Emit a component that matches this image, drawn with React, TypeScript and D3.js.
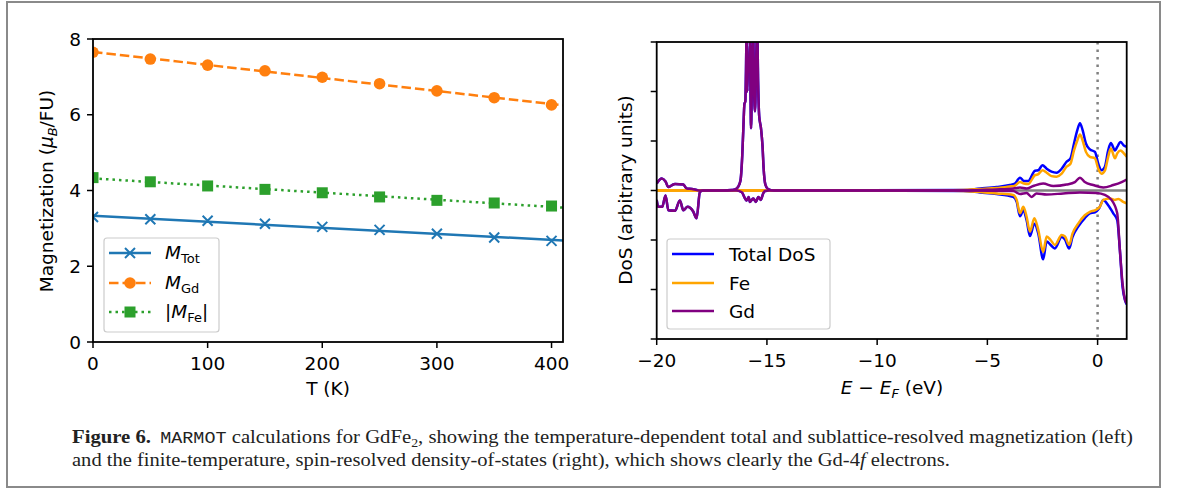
import React from "react";
import * as d3 from "d3";

// ---------- Left panel data ----------
const temps = [0, 50, 100, 150, 200, 250, 300, 350, 400];
const mTot = [3.30, 3.24, 3.20, 3.12, 3.04, 2.96, 2.86, 2.76, 2.67];
const mGd = [7.65, 7.47, 7.31, 7.16, 6.99, 6.82, 6.63, 6.45, 6.26];
const mFe = [4.34, 4.23, 4.12, 4.03, 3.94, 3.83, 3.74, 3.67, 3.59];
const leftXTicks = [0, 100, 200, 300, 400];
const leftYTicks = [0, 2, 4, 6, 8];

// ---------- Right panel data ([E - E_F in eV, DoS]) ----------
const gdUp: [number, number][] = [
  [-20.0, 0.14], [-19.77, 0.24], [-19.6, 0.18], [-19.47, 0.07], [-19.3, 0.11], [-19.17, 0.13],
  [-18.79, 0.12], [-18.64, 0.04], [-18.4, 0.03], [-18.19, 0.01], [-18.04, 0.0], [-17.0, 0.0],
  [-16.6, 0.01], [-16.45, 0.02], [-16.3, 0.08], [-16.2, 0.2], [-16.12, 0.7], [-16.07, 1.25],
  [-16.02, 1.75], [-15.98, 1.8], [-15.95, 2.4], [-15.92, 3.3], [-15.89, 2.0], [-15.86, 2.6],
  [-15.81, 2.4], [-15.77, 3.0], [-15.74, 1.8], [-15.72, 1.26], [-15.68, 2.2], [-15.63, 3.3],
  [-15.58, 2.0], [-15.54, 1.6], [-15.49, 2.6], [-15.44, 3.3], [-15.4, 2.2], [-15.35, 1.5],
  [-15.27, 1.26], [-15.2, 0.9], [-15.15, 0.45], [-15.07, 0.12], [-14.95, 0.03], [-14.7, 0.0],
  [-6.0, 0.0], [-5.34, 0.01], [-4.58, 0.02], [-3.83, 0.04],
  [-3.52, 0.06], [-3.22, 0.04], [-2.92, 0.09], [-2.47, 0.14], [-2.01, 0.09], [-1.41, 0.12],
  [-1.03, 0.17], [-0.8, 0.26], [-0.58, 0.17], [-0.2, 0.11], [0.26, 0.06], [0.71, 0.11],
  [1.09, 0.17], [1.32, 0.22],
];
const gdDown: [number, number][] = [
  [-20.0, -0.19], [-19.93, -0.33], [-19.75, -0.33], [-19.6, -0.1], [-19.47, -0.4], [-19.17, -0.41],
  [-18.95, -0.2], [-18.79, -0.4], [-18.6, -0.33], [-18.35, -0.42], [-18.19, -0.56], [-18.04, -0.03],
  [-17.9, 0.0], [-16.4, 0.0], [-16.15, -0.03], [-15.92, -0.2], [-15.83, -0.13], [-15.77, -0.23],
  [-15.62, -0.16], [-15.5, -0.23], [-15.39, -0.13], [-15.28, -0.19], [-15.17, -0.06], [-15.09, -0.01],
  [-14.9, 0.0], [-6.0, 0.0], [-3.83, -0.01], [-3.52, -0.07], [-3.22, -0.05], [-2.99, -0.13],
  [-2.77, -0.06], [-2.31, -0.08], [-1.56, -0.06], [-0.8, -0.04], [-0.05, -0.05], [0.33, -0.09],
  [0.63, -0.19], [0.89, -0.46], [1.01, -1.2], [1.13, -1.87], [1.24, -2.2], [1.32, -2.28],
];
const feUp: [number, number][] = [
  [-20.0, 0.0], [-7.0, 0.0], [-6.09, 0.01], [-5.34, 0.03], [-4.58, 0.05], [-3.98, 0.08],
  [-3.75, 0.1], [-3.52, 0.17], [-3.34, 0.14], [-3.15, 0.13], [-2.84, 0.31], [-2.69, 0.33],
  [-2.5, 0.41], [-2.31, 0.36], [-2.09, 0.29], [-1.86, 0.28], [-1.63, 0.34], [-1.41, 0.48],
  [-1.23, 0.54], [-1.07, 0.81], [-0.92, 1.01], [-0.8, 1.13], [-0.68, 1.01], [-0.53, 0.78],
  [-0.35, 0.68], [-0.12, 0.65], [0.03, 0.44], [0.18, 0.34], [0.33, 0.4], [0.48, 0.68],
  [0.6, 0.85], [0.79, 0.65], [0.89, 0.75], [1.04, 0.81], [1.19, 0.75], [1.32, 0.68],
];
const feDown: [number, number][] = [
  [-20.0, 0.0], [-7.0, 0.0], [-6.09, -0.01], [-5.34, -0.03], [-4.58, -0.06], [-3.83, -0.09],
  [-3.67, -0.19], [-3.52, -0.46], [-3.37, -0.33], [-3.22, -0.53], [-3.07, -0.83], [-2.87, -0.56],
  [-2.69, -0.8], [-2.47, -1.24], [-2.31, -0.93], [-2.13, -1.0], [-1.94, -1.1], [-1.63, -0.9],
  [-1.48, -0.93], [-1.29, -1.1], [-1.14, -0.87], [-0.88, -0.67], [-0.58, -0.5], [-0.35, -0.43],
  [-0.12, -0.4], [0.1, -0.33], [0.26, -0.19], [0.56, -0.16], [0.78, -0.19], [0.94, -0.17],
  [1.16, -0.23], [1.32, -0.26],
];
const totUp: [number, number][] = [
  ...gdUp.filter((d) => d[0] < -6.5),
  [-6.09, 0.01], [-5.34, 0.04], [-4.58, 0.07], [-3.98, 0.11], [-3.75, 0.14], [-3.52, 0.26],
  [-3.34, 0.19], [-3.15, 0.19], [-2.84, 0.4], [-2.69, 0.41], [-2.5, 0.51], [-2.31, 0.44],
  [-2.09, 0.38], [-1.86, 0.36], [-1.63, 0.44], [-1.41, 0.58], [-1.23, 0.65], [-1.07, 0.95],
  [-0.92, 1.22], [-0.8, 1.36], [-0.68, 1.22], [-0.53, 0.95], [-0.35, 0.83], [-0.12, 0.78],
  [0.03, 0.54], [0.18, 0.41], [0.33, 0.48], [0.48, 0.81], [0.6, 0.96], [0.79, 0.81],
  [0.89, 0.88], [1.04, 0.98], [1.19, 0.91], [1.32, 0.88],
];
const totDown: [number, number][] = [
  ...gdDown.filter((d) => d[0] < -6.5),
  [-6.09, -0.01], [-5.34, -0.04], [-4.58, -0.07], [-3.83, -0.13], [-3.67, -0.23], [-3.52, -0.52],
  [-3.37, -0.4], [-3.22, -0.6], [-3.07, -0.92], [-2.87, -0.67], [-2.69, -0.87], [-2.47, -1.39],
  [-2.31, -1.03], [-2.13, -1.1], [-1.94, -1.17], [-1.63, -0.94], [-1.48, -0.99], [-1.29, -1.17],
  [-1.14, -0.94], [-0.88, -0.73], [-0.58, -0.56], [-0.35, -0.46], [-0.12, -0.44], [0.07, -0.36],
  [0.26, -0.19], [0.48, -0.3], [0.71, -0.46], [0.89, -0.6], [1.01, -1.2], [1.13, -1.94],
  [1.24, -2.21], [1.32, -2.3],
];
const rightXTicks = [-20, -15, -10, -5, 0];
const rightYTicks = [-3, -2, -1, 0, 1, 2, 3];

const C_TOT = "#1f77b4";
const C_GD = "#ff7f0e";
const C_FE = "#2ca02c";
const FONT = "DejaVu Sans, sans-serif";

function fit(xs: number[], ys: number[]) {
  const mx = d3.mean(xs)!;
  const my = d3.mean(ys)!;
  let num = 0, den = 0;
  xs.forEach((x, i) => { num += (x - mx) * (ys[i] - my); den += (x - mx) * (x - mx); });
  const b = num / den;
  return (x: number) => my + b * (x - mx);
}

export default function App() {
  // left scales
  const xL = d3.scaleLinear().domain([0, 410]).range([93, 563]);
  const yL = d3.scaleLinear().domain([0, 8]).range([342, 39]);
  // right scales
  const xR = d3.scaleLinear().domain([-20, 1.32]).range([656.7, 1126.7]);
  const yR = d3.scaleLinear().domain([-3, 3]).range([339, 42]);

  const dos = d3.line<[number, number]>().x((d) => xR(d[0])).y((d) => yR(d[1])).curve(d3.curveMonotoneX);

  const [x0, x1] = xL.domain();
  const fitLine = (ys: number[]) => {
    const f = fit(temps, ys);
    return `M${xL(x0)},${yL(f(x0))}L${xL(x1)},${yL(f(x1))}`;
  };

  const xMark = (cx: number, cy: number, s: number, key?: any) => (
    <path key={key} d={`M${cx - s},${cy - s}L${cx + s},${cy + s}M${cx - s},${cy + s}L${cx + s},${cy - s}`}
      stroke={C_TOT} strokeWidth={2} fill="none" />
  );

  const fs = 18.5;
  const lw = 2.5;

  return (
    <svg width={1179} height={490} style={{ position: "absolute", left: 0, top: 0, background: "#fff" }}
      fontFamily={FONT}>
      <defs>
        <clipPath id="clipL"><rect x={93} y={39} width={470} height={303} /></clipPath>
        <clipPath id="clipR"><rect x={656.7} y={42} width={470} height={297} /></clipPath>
      </defs>
      <rect x={0} y={0} width={1179} height={490} fill="#fff" />
      <rect x={7} y={2} width={1153} height={485} fill="none" stroke="#8a8a8a" strokeWidth={2} />

      {/* ---------------- Left panel ---------------- */}
      <g clipPath="url(#clipL)">
        <path d={fitLine(mTot)} stroke={C_TOT} strokeWidth={lw} fill="none" />
        <path d={fitLine(mGd)} stroke={C_GD} strokeWidth={lw} fill="none" strokeDasharray="9.5,4" />
        <path d={fitLine(mFe)} stroke={C_FE} strokeWidth={lw} fill="none" strokeDasharray="2.5,4" />
        {temps.map((t, i) => xMark(xL(t), yL(mTot[i]), 5, "t" + i))}
        {temps.map((t, i) => <circle key={"g" + i} cx={xL(t)} cy={yL(mGd[i])} r={5.8} fill={C_GD} />)}
        {temps.map((t, i) => <rect key={"f" + i} x={xL(t) - 5.5} y={yL(mFe[i]) - 5.5} width={11} height={11} fill={C_FE} />)}
      </g>
      <rect x={93} y={39} width={470} height={303} fill="none" stroke="#000" strokeWidth={1.8} />
      {leftXTicks.map((t) => (
        <g key={"lx" + t}>
          <line x1={xL(t)} x2={xL(t)} y1={342} y2={348} stroke="#000" strokeWidth={1.5} />
          <text x={xL(t)} y={370} textAnchor="middle" fontSize={fs}>{t}</text>
        </g>
      ))}
      {leftYTicks.map((t) => (
        <g key={"ly" + t}>
          <line x1={87} x2={93} y1={yL(t)} y2={yL(t)} stroke="#000" strokeWidth={1.5} />
          <text x={81} y={yL(t) + 6.5} textAnchor="end" fontSize={fs}>{t}</text>
        </g>
      ))}
      <text x={328} y={395} textAnchor="middle" fontSize={fs}>T (K)</text>
      <text transform="translate(53,191) rotate(-90)" textAnchor="middle" fontSize={fs}>
        Magnetization (<tspan fontStyle="italic">μ</tspan><tspan fontStyle="italic" fontSize={13} dy={4}>B</tspan><tspan dy={-4}>/FU)</tspan>
      </text>

      {/* left legend */}
      <rect x={104} y={238} width={115} height={94} rx={3} fill="#fff" fillOpacity={0.8} stroke="#cccccc" strokeWidth={1.2} />
      <line x1={109} x2={151} y1={253} y2={253} stroke={C_TOT} strokeWidth={lw} />
      {xMark(130, 253, 5)}
      <line x1={109} x2={151} y1={283} y2={283} stroke={C_GD} strokeWidth={lw} strokeDasharray="9.5,4" />
      <circle cx={130} cy={283} r={5.8} fill={C_GD} />
      <line x1={109} x2={151} y1={312} y2={312} stroke={C_FE} strokeWidth={lw} strokeDasharray="2.5,4" />
      <rect x={124.5} y={306.5} width={11} height={11} fill={C_FE} />
      <text x={165} y={259} fontSize={fs}><tspan fontStyle="italic">M</tspan><tspan fontSize={13} dy={4}>Tot</tspan></text>
      <text x={165} y={289} fontSize={fs}><tspan fontStyle="italic">M</tspan><tspan fontSize={13} dy={4}>Gd</tspan></text>
      <text x={165} y={318} fontSize={fs}>|<tspan fontStyle="italic">M</tspan><tspan fontSize={13} dy={4}>Fe</tspan><tspan dy={-4}>|</tspan></text>

      {/* ---------------- Right panel ---------------- */}
      <g clipPath="url(#clipR)">
        <line x1={656.7} x2={1126.7} y1={yR(0)} y2={yR(0)} stroke="#808080" strokeWidth={2.5} />
        <line x1={xR(0)} x2={xR(0)} y1={42} y2={339} stroke="#808080" strokeWidth={2.5} strokeDasharray="2.5,5" />
        <path d={dos(totUp)!} stroke="#0000ff" strokeWidth={lw} fill="none" />
        <path d={dos(totDown)!} stroke="#0000ff" strokeWidth={lw} fill="none" />
        <path d={dos(feUp)!} stroke="#ffa500" strokeWidth={lw} fill="none" />
        <path d={dos(feDown)!} stroke="#ffa500" strokeWidth={lw} fill="none" />
        <path d={dos(gdUp)!} stroke="#800080" strokeWidth={lw} fill="none" />
        <path d={dos(gdDown)!} stroke="#800080" strokeWidth={lw} fill="none" />
      </g>
      <rect x={656.7} y={42} width={470} height={297} fill="none" stroke="#000" strokeWidth={1.8} />
      {rightXTicks.map((t) => (
        <g key={"rx" + t}>
          <line x1={xR(t)} x2={xR(t)} y1={339} y2={345} stroke="#000" strokeWidth={1.5} />
          <text x={xR(t)} y={367} textAnchor="middle" fontSize={fs}>{t < 0 ? "\u2212" + Math.abs(t) : t}</text>
        </g>
      ))}
      {rightYTicks.map((t) => (
        <line key={"ry" + t} x1={650.7} x2={656.7} y1={yR(t)} y2={yR(t)} stroke="#000" strokeWidth={1.5} />
      ))}
      <text x={892} y={394} textAnchor="middle" fontSize={fs}>
        <tspan fontStyle="italic">E</tspan> − <tspan fontStyle="italic">E</tspan><tspan fontStyle="italic" fontSize={13} dy={4}>F</tspan><tspan dy={-4}> (eV)</tspan>
      </text>
      <text transform="translate(632,190) rotate(-90)" textAnchor="middle" fontSize={fs}>DoS (arbitrary units)</text>

      {/* right legend */}
      <rect x={667} y={239} width={163} height={90} rx={3} fill="#fff" fillOpacity={0.8} stroke="#cccccc" strokeWidth={1.2} />
      <line x1={672} x2={714} y1={254} y2={254} stroke="#0000ff" strokeWidth={lw} />
      <line x1={672} x2={714} y1={283} y2={283} stroke="#ffa500" strokeWidth={lw} />
      <line x1={672} x2={714} y1={311} y2={311} stroke="#800080" strokeWidth={lw} />
      <text x={729} y={260.5} fontSize={fs}>Total DoS</text>
      <text x={729} y={289.5} fontSize={fs}>Fe</text>
      <text x={729} y={317.5} fontSize={fs}>Gd</text>

      {/* ---------------- Caption ---------------- */}
      <text x={72} y={443} fontFamily="Liberation Serif, serif" fontSize={18} textLength={1061} lengthAdjust="spacingAndGlyphs" fill="#222">
        <tspan fontWeight="bold">Figure 6.</tspan>
        <tspan fontFamily="Liberation Mono, monospace" fontSize={16} dx={8}>MARMOT</tspan>
        <tspan> calculations for GdFe</tspan><tspan fontSize={12} dy={4}>2</tspan><tspan dy={-4}>, showing the temperature-dependent total and sublattice-resolved magnetization (left)</tspan>
      </text>
      <text x={72} y={466} fontFamily="Liberation Serif, serif" fontSize={18} textLength={878} lengthAdjust="spacingAndGlyphs" fill="#222">
        and the finite-temperature, spin-resolved density-of-states (right), which shows clearly the Gd-4<tspan fontStyle="italic">f</tspan> electrons.
      </text>
    </svg>
  );
}
